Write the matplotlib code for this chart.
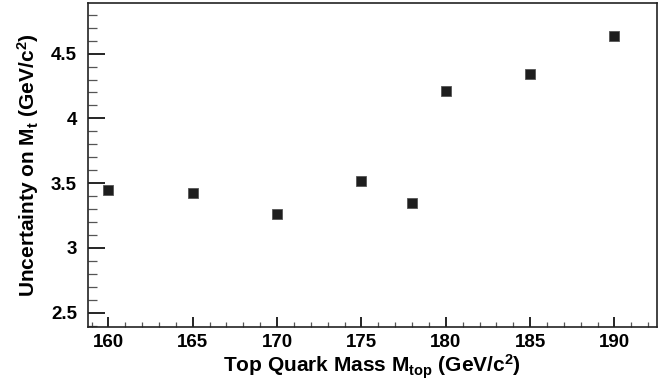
import numpy as np
import matplotlib
matplotlib.use("Agg")
import matplotlib.pyplot as plt
from matplotlib.ticker import MultipleLocator, FuncFormatter

# data
top_mass = [160, 165, 170, 175, 178, 180, 185, 190]
uncertainty = [3.45, 3.42, 3.26, 3.52, 3.35, 4.21, 4.34, 4.64]

plt.rcParams['font.family'] = ['Liberation Sans', 'DejaVu Sans']
plt.rcParams['font.weight'] = 'bold'
plt.rcParams['mathtext.fontset'] = 'custom'
plt.rcParams['mathtext.rm'] = 'Liberation Sans:bold'
plt.rcParams['mathtext.it'] = 'Liberation Sans:bold'
plt.rcParams['mathtext.bf'] = 'Liberation Sans:bold'

fig = plt.figure(figsize=(6.68, 3.91), dpi=100)
ax = fig.add_axes([0.132, 0.164, 0.851, 0.828])

ax.plot(top_mass, uncertainty, linestyle='none', marker='s', markersize=7.6,
        markerfacecolor='#1e1e1e', markeredgecolor='#555555', markeredgewidth=0.6)

ax.set_xlim(158.8, 192.5)
ax.set_ylim(2.39, 4.89)

ax.xaxis.set_major_locator(MultipleLocator(5))
ax.xaxis.set_minor_locator(MultipleLocator(1))
ax.yaxis.set_major_locator(MultipleLocator(0.5))
ax.yaxis.set_minor_locator(MultipleLocator(0.1))
ax.yaxis.set_major_formatter(FuncFormatter(lambda v, p: '%g' % v))

ax.tick_params(axis='y', which='major', direction='in', length=12, width=1.2,
               labelsize=13.5, pad=8, right=False)
ax.tick_params(axis='y', which='minor', direction='in', length=6.5, width=0.9,
               color='#555555', right=False)
ax.tick_params(axis='x', which='major', direction='in', length=7, width=1.2,
               labelsize=13.5, pad=5, top=False)
ax.tick_params(axis='x', which='minor', direction='in', length=3.5, width=0.9,
               color='#555555', top=False)

for s in ax.spines.values():
    s.set_linewidth(1.2)
    s.set_color('#222222')

ax.set_xlabel(r'Top Quark Mass M$_{\rm top}$ (GeV/c$^{2}$)', fontsize=15, fontweight='bold', labelpad=1)
ax.set_ylabel(r'Uncertainty on M$_{\rm t}$ (GeV/c$^{2}$)', fontsize=15, fontweight='bold', labelpad=7)

fig.savefig('out.png', dpi=100)
